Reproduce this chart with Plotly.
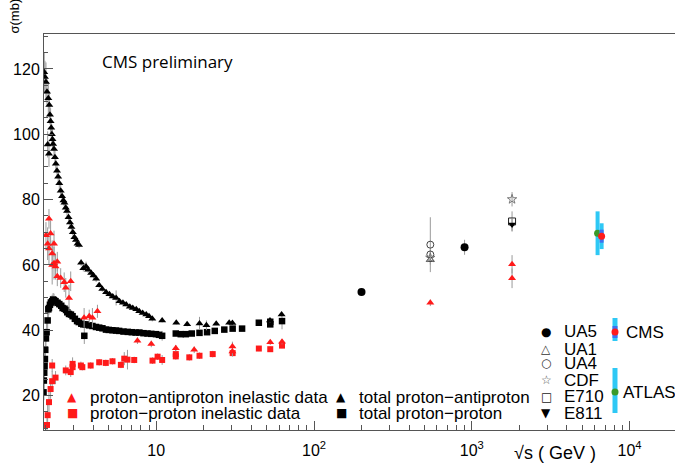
import plotly.graph_objects as go

# ---------------- data (sqrt(s) in GeV, sigma in mb) ----------------
# total proton-antiproton (black triangles)
s_pbp_tot = [1.95, 1.97, 2.00, 2.03, 2.05, 2.07, 2.09, 2.10, 2.12, 2.14,
             2.16, 2.18, 2.20, 2.22, 2.25, 2.28, 2.31, 2.35, 2.39, 2.43,
             2.48, 2.53, 2.58, 2.62, 2.67, 2.72, 2.78, 2.84, 2.90, 2.96,
             3.03, 3.10, 3.17, 3.24, 3.34, 3.45, 3.59, 3.70, 3.87, 4.00,
             4.16, 4.35, 4.55, 4.81, 5.05, 5.30, 5.57, 5.85, 6.15, 6.45,
             6.80, 7.10, 7.47, 7.80, 8.20, 8.64, 9.00, 9.44, 10.9, 13.4,
             15.7, 18.8, 20.8, 24.0, 29.0, 30.4, 52.6, 62.3]
sig_pbp_tot = [119.0, 117.5, 116.0, 113.0, 96.9, 111.0, 94.0, 109.0, 106.0, 104.0,
               102.0, 100.0, 98.5, 97.0, 95.5, 93.0, 91.0, 88.8, 87.0, 85.0,
               82.7, 81.0, 79.7, 79.0, 77.5, 76.5, 74.6, 73.0, 71.6, 70.0,
               68.5, 67.6, 66.5, 66.1, 60.7, 59.0, 59.5, 58.5, 57.5, 56.8,
               55.8, 53.8, 52.6, 51.6, 51.0, 50.3, 49.9, 48.9, 48.4, 47.9,
               47.2, 46.8, 46.4, 45.8, 45.3, 44.8, 44.3, 43.5, 43.0, 42.3,
               41.8, 42.1, 41.5, 42.0, 42.3, 42.2, 43.0, 44.8]
err_pbp_tot = [6, 5, 6, 4, 4, 5, 4, 4, 3, 4,
               3, 3, 3, 2, 3, 2, 2, 2, 2, 2,
               2, 2, 1.5, 1.5, 1.5, 1.5, 1.2, 1.2, 1, 1,
               1, 1, 1, 1, 1, 1, 1.5, 1, 1, 1,
               1, 0.8, 0.8, 0.8, 0.8, 0.8, 2.3, 0.6, 0.6, 0.6,
               0.6, 0.6, 0.5, 0.5, 0.5, 0.5, 0.5, 0.8, 0.6, 0.5,
               0.6, 2.0, 1.5, 0.5, 0.5, 0.6, 0.6, 0.6]

# total proton-proton (black squares)
s_pp_tot = [1.93, 1.94, 1.95, 1.96, 1.97, 1.98, 2.00, 2.02, 2.05, 2.07,
            2.09, 2.12, 2.15, 2.19, 2.22, 2.25, 2.30, 2.37, 2.43, 2.50,
            2.55, 2.62, 2.68, 2.73, 2.80, 2.88, 2.95, 3.05, 3.15, 3.23,
            3.35, 3.45, 3.50, 3.57, 3.75, 3.94, 4.15, 4.35, 4.56, 4.80,
            5.00, 5.28, 5.55, 5.82, 6.20, 6.60, 7.00, 7.40, 7.82, 8.30,
            8.80, 9.30, 9.96, 10.4, 10.9, 13.3, 14.3, 15.4, 16.8, 18.8,
            21.0, 23.5, 27.0, 30.5, 35.0, 44.7, 52.8, 52.8, 62.7]
sig_pp_tot = [21.0, 24.6, 27.0, 29.0, 31.2, 34.0, 37.5, 39.4, 43.0, 46.4,
              46.8, 47.8, 48.5, 48.9, 49.4, 49.2, 48.9, 48.4, 48.0, 47.5,
              46.8, 46.6, 46.2, 45.5, 45.0, 44.8, 44.3, 43.5, 42.8, 42.5,
              42.0, 41.8, 38.3, 41.8, 41.5, 41.3, 41.0, 40.8, 40.6, 40.2,
              40.1, 40.0, 39.9, 39.8, 39.6, 39.5, 39.4, 39.3, 39.3, 39.1,
              39.0, 38.9, 38.8, 38.6, 38.3, 39.0, 38.8, 38.8, 39.0, 39.2,
              39.4, 39.8, 40.2, 40.5, 40.5, 42.3, 41.8, 42.6, 42.8]
err_pp_tot = [8, 6, 5, 5, 4, 4, 3, 3, 3, 3,
              2, 2, 2, 2, 2, 2, 1.5, 1.5, 1.5, 1.5,
              1.2, 1.2, 1, 1, 1, 1, 1, 1, 1, 1,
              1, 1, 2.5, 1, 0.8, 0.8, 0.8, 0.8, 0.6, 0.6,
              0.6, 0.6, 0.5, 0.5, 0.5, 0.5, 0.5, 0.5, 0.5, 0.5,
              0.5, 0.5, 0.5, 0.5, 1.5, 0.5, 0.5, 0.5, 0.5, 0.5,
              0.5, 0.5, 0.5, 0.5, 0.5, 0.5, 0.5, 0.5, 2.5]

# proton-proton inelastic (red squares)
s_pp_inel = [2.03, 2.05, 2.09, 2.14, 2.19, 2.19, 2.30, 2.67, 2.87, 2.95,
             2.95, 3.33, 3.40, 3.84, 4.35, 4.79, 5.28, 5.97, 6.27, 6.57,
             7.25, 9.47, 10.2, 10.9, 13.3, 13.3, 16.2, 18.8, 22.8, 30.5,
             44.7, 52.8, 62.7]
sig_pp_inel = [11.0, 14.0, 18.0, 22.0, 24.4, 29.2, 25.5, 27.7, 27.2, 28.7,
               29.7, 29.2, 28.7, 29.2, 30.2, 30.0, 30.5, 29.4, 31.3, 31.0,
               30.9, 30.7, 31.9, 30.9, 32.7, 32.0, 31.7, 32.2, 32.7, 33.0,
               34.4, 34.2, 35.3]
err_pp_inel = [3, 4, 4, 3, 3, 2, 2, 1.5, 1.5, 1.5,
               2, 1.2, 1, 1, 1, 1, 1, 1, 2, 3,
               1, 1, 1, 1.5, 1.5, 1, 1, 1, 1, 1,
               0.8, 0.8, 0.8]

# proton-antiproton inelastic (red triangles)
s_pbp_inel = [2.00, 2.05, 2.09, 2.09, 2.14, 2.19, 2.19, 2.25, 2.25, 2.30,
              2.36, 2.36, 2.48, 2.61, 2.67, 2.80, 2.87, 3.49, 3.76, 3.94,
              4.24, 7.6, 9.3, 13.3, 17.4, 30.4, 30.4, 52.8, 62.7, 546,
              1800, 1800]
sig_pbp_inel = [69.1, 66.5, 74.1, 65.0, 69.6, 63.5, 60.0, 66.5, 60.5, 59.5,
                61.0, 56.5, 56.0, 54.7, 53.0, 49.9, 55.0, 43.8, 44.3, 43.8,
                45.8, 36.8, 35.8, 34.5, 34.0, 35.0, 33.5, 36.3, 36.5, 48.4,
                60.2, 55.9]
err_pbp_inel = [4, 5, 3, 5, 4, 4, 6, 4, 5, 4,
                3, 3, 3, 3, 3, 4, 3, 3, 2, 3,
                2, 1, 1, 1, 1, 1.5, 1.5, 0.8, 0.8, 1,
                2.8, 3]

# collider experiments
s_ua5, sig_ua5, err_ua5 = [200, 900], [51.7, 65.4], [0.5, 2.3]
s_ua1, sig_ua1, err_ua1 = [546], [61.6], [1.5]
s_ua4, sig_ua4, err_ua4 = [546, 546], [66.2, 63.2], [8.4, 1.5]
s_cdf, sig_cdf, err_cdf = [546, 1800], [62.2, 80.1], [0.9, 2.2]
s_e710, sig_e710, err_e710 = [1800], [73.3], [3.1]
s_e811, sig_e811, err_e811 = [1800], [72.4], [2.0]
s_atlas, sig_atlas, err_atlas = [6270], [69.7], [6.7]
s_cms, sig_cms, err_cms_tot, err_cms_in = [6650], [68.8], [3.95], [2.0]

x_tickvals = [10, 100, 1000, 10000]
x_ticktext = ["10", "10<sup>2</sup>", "10<sup>3</sup>", "10<sup>4</sup>"]

# ---------------- figure ----------------
W, H = 675, 465
ML, MR, MT, MB = 44, 0, 34, 35


def pxx(x):
    return (x - ML) / (W - ML - MR)


def pxy(y):
    return (H - MB - y) / (H - MT - MB)


ERRC = "#9a9a9a"
RED = "#ff1a1a"
CYAN = "#2ec8f5"

fig = go.Figure()


def add(s, v, e, symbol, color, size, ecolor=ERRC, ethick=1, lw=0):
    fig.add_trace(go.Scatter(
        x=s, y=v, mode="markers",
        marker=dict(symbol=symbol, color=color, size=size,
                    line=dict(width=lw, color=color)),
        error_y=dict(type="data", array=e, visible=True, color=ecolor,
                     thickness=ethick, width=0),
        showlegend=False, hoverinfo="skip"))


add(s_pp_tot, sig_pp_tot, err_pp_tot, "square", "black", 6.5)
add(s_pbp_tot, sig_pbp_tot, err_pbp_tot, "triangle-up", "black", 7)
add(s_pp_inel, sig_pp_inel, err_pp_inel, "square", RED, 6)
add(s_pbp_inel, sig_pbp_inel, err_pbp_inel, "triangle-up", RED, 7)
add(s_ua5, sig_ua5, err_ua5, "circle", "black", 8)
add(s_ua4, sig_ua4, err_ua4, "circle-open", "#444", 7, lw=1)
add(s_ua1, sig_ua1, err_ua1, "triangle-up-open", "#444", 7, lw=1)
add(s_cdf, sig_cdf, err_cdf, "star-open", "#777", 7, lw=1)
add(s_e710, sig_e710, err_e710, "square-open", "#222", 7, lw=1)
add(s_e811, sig_e811, err_e811, "triangle-down", "black", 7)
add(s_atlas, sig_atlas, err_atlas, "circle", "#3a9a2a", 7, ecolor=CYAN, ethick=4)
add(s_cms, sig_cms, err_cms_tot, "circle", RED, 1, ecolor=CYAN, ethick=4)
add(s_cms, sig_cms, err_cms_in, "circle", RED, 7, ecolor="#3f6ff0", ethick=4)

TXT = dict(family="Liberation Sans, Arial, sans-serif", size=17, color="black")

ann = []


def text(px, py, t, font=TXT, xanchor="left", **kw):
    ann.append(dict(x=pxx(px), y=pxy(py), xref="paper", yref="paper", text=t,
                    showarrow=False, xanchor=xanchor, yanchor="middle",
                    font=font, **kw))


def glyph(px, py, g, color, size=12):
    text(px, py, g, font=dict(family="DejaVu Sans", size=size, color=color),
         xanchor="center")


# legend block (bottom)
r1, r2 = 397, 413
glyph(72, r1, "▲", RED)
text(88, r1, "proton−antiproton inelastic data")
glyph(72, r2, "■", RED)
text(88, r2, "proton−proton inelastic data")
glyph(341, r1, "▲", "black")
text(357, r1, "total proton−antiproton")
glyph(341, r2, "■", "black")
text(357, r2, "total proton−proton")

rows = [331.7, 349, 363.3, 380, 396.7, 413.3]
names = ["UA5", "UA1", "UA4", "CDF", "E710", "E811"]
glyphs = ["●", "△", "○", "☆", "□", "▼"]
gcol = ["black", "#333", "#333", "#555", "#222", "black"]
for ry, nm, g, c in zip(rows, names, glyphs, gcol):
    glyph(546, ry, g, c, size=12)
    text(562, ry, nm)

text(624, 332, "CMS")
text(621, 392, "ATLAS")

text(100, 61, "CMS preliminary",
     font=dict(family="Open Sans", size=17, color="black"))
text(555, 453, "√s ( GeV )", font=dict(family="Liberation Sans", size=18, color="black"),
     xanchor="center")
ann.append(dict(x=pxx(14), y=pxy(16.5), xref="paper", yref="paper", text="σ(mb)",
                showarrow=False, textangle=-90, xanchor="center", yanchor="middle",
                font=dict(family="Liberation Sans", size=13, color="black")))

shapes = [
    dict(type="line", xref="paper", yref="paper", x0=pxx(615), x1=pxx(615),
         y0=pxy(318), y1=pxy(341), line=dict(color=CYAN, width=5)),
    dict(type="line", xref="paper", yref="paper", x0=pxx(615), x1=pxx(615),
         y0=pxy(326), y1=pxy(338), line=dict(color="#3f6ff0", width=5)),
    dict(type="circle", xref="paper", yref="paper", x0=pxx(611.5), x1=pxx(618.5),
         y0=pxy(328.5), y1=pxy(335.5), fillcolor=RED, line=dict(width=0)),
    dict(type="line", xref="paper", yref="paper", x0=pxx(615), x1=pxx(615),
         y0=pxy(368), y1=pxy(413), line=dict(color=CYAN, width=5)),
    dict(type="circle", xref="paper", yref="paper", x0=pxx(611.5), x1=pxx(618.5),
         y0=pxy(388.5), y1=pxy(395.5), fillcolor="#3a9a2a", line=dict(width=0)),
]

minor_x = [m * 10 ** k for k in range(0, 5) for m in range(2, 10)]

fig.update_layout(
    width=W, height=H,
    margin=dict(l=ML, r=MR, t=MT, b=MB),
    paper_bgcolor="white", plot_bgcolor="white",
    annotations=ann, shapes=shapes,
    xaxis=dict(type="log", range=[0.2886, 4.288], showgrid=False, zeroline=False,
               showline=True, linecolor="#555", linewidth=1, mirror=True,
               ticks="inside", ticklen=9, tickcolor="#555",
               tickmode="array", tickvals=x_tickvals, ticktext=x_ticktext,
               tickfont=dict(family="Liberation Sans", size=16, color="black"),
               ticklabelstandoff=6,
               minor=dict(tickmode="array", tickvals=minor_x, ticks="inside",
                          ticklen=5, tickcolor="#555", showgrid=False)),
    yaxis=dict(range=[9.46, 130.7], showgrid=False, zeroline=False,
               showline=True, linecolor="#555", linewidth=1,
               ticks="inside", ticklen=9, tickcolor="#555",
               tickmode="linear", tick0=0, dtick=20,
               tickfont=dict(family="Liberation Sans", size=16, color="black"),
               minor=dict(ticks="inside", ticklen=4, dtick=5, tickcolor="#555",
                          showgrid=False)),
)

fig.write_html("out.html")
